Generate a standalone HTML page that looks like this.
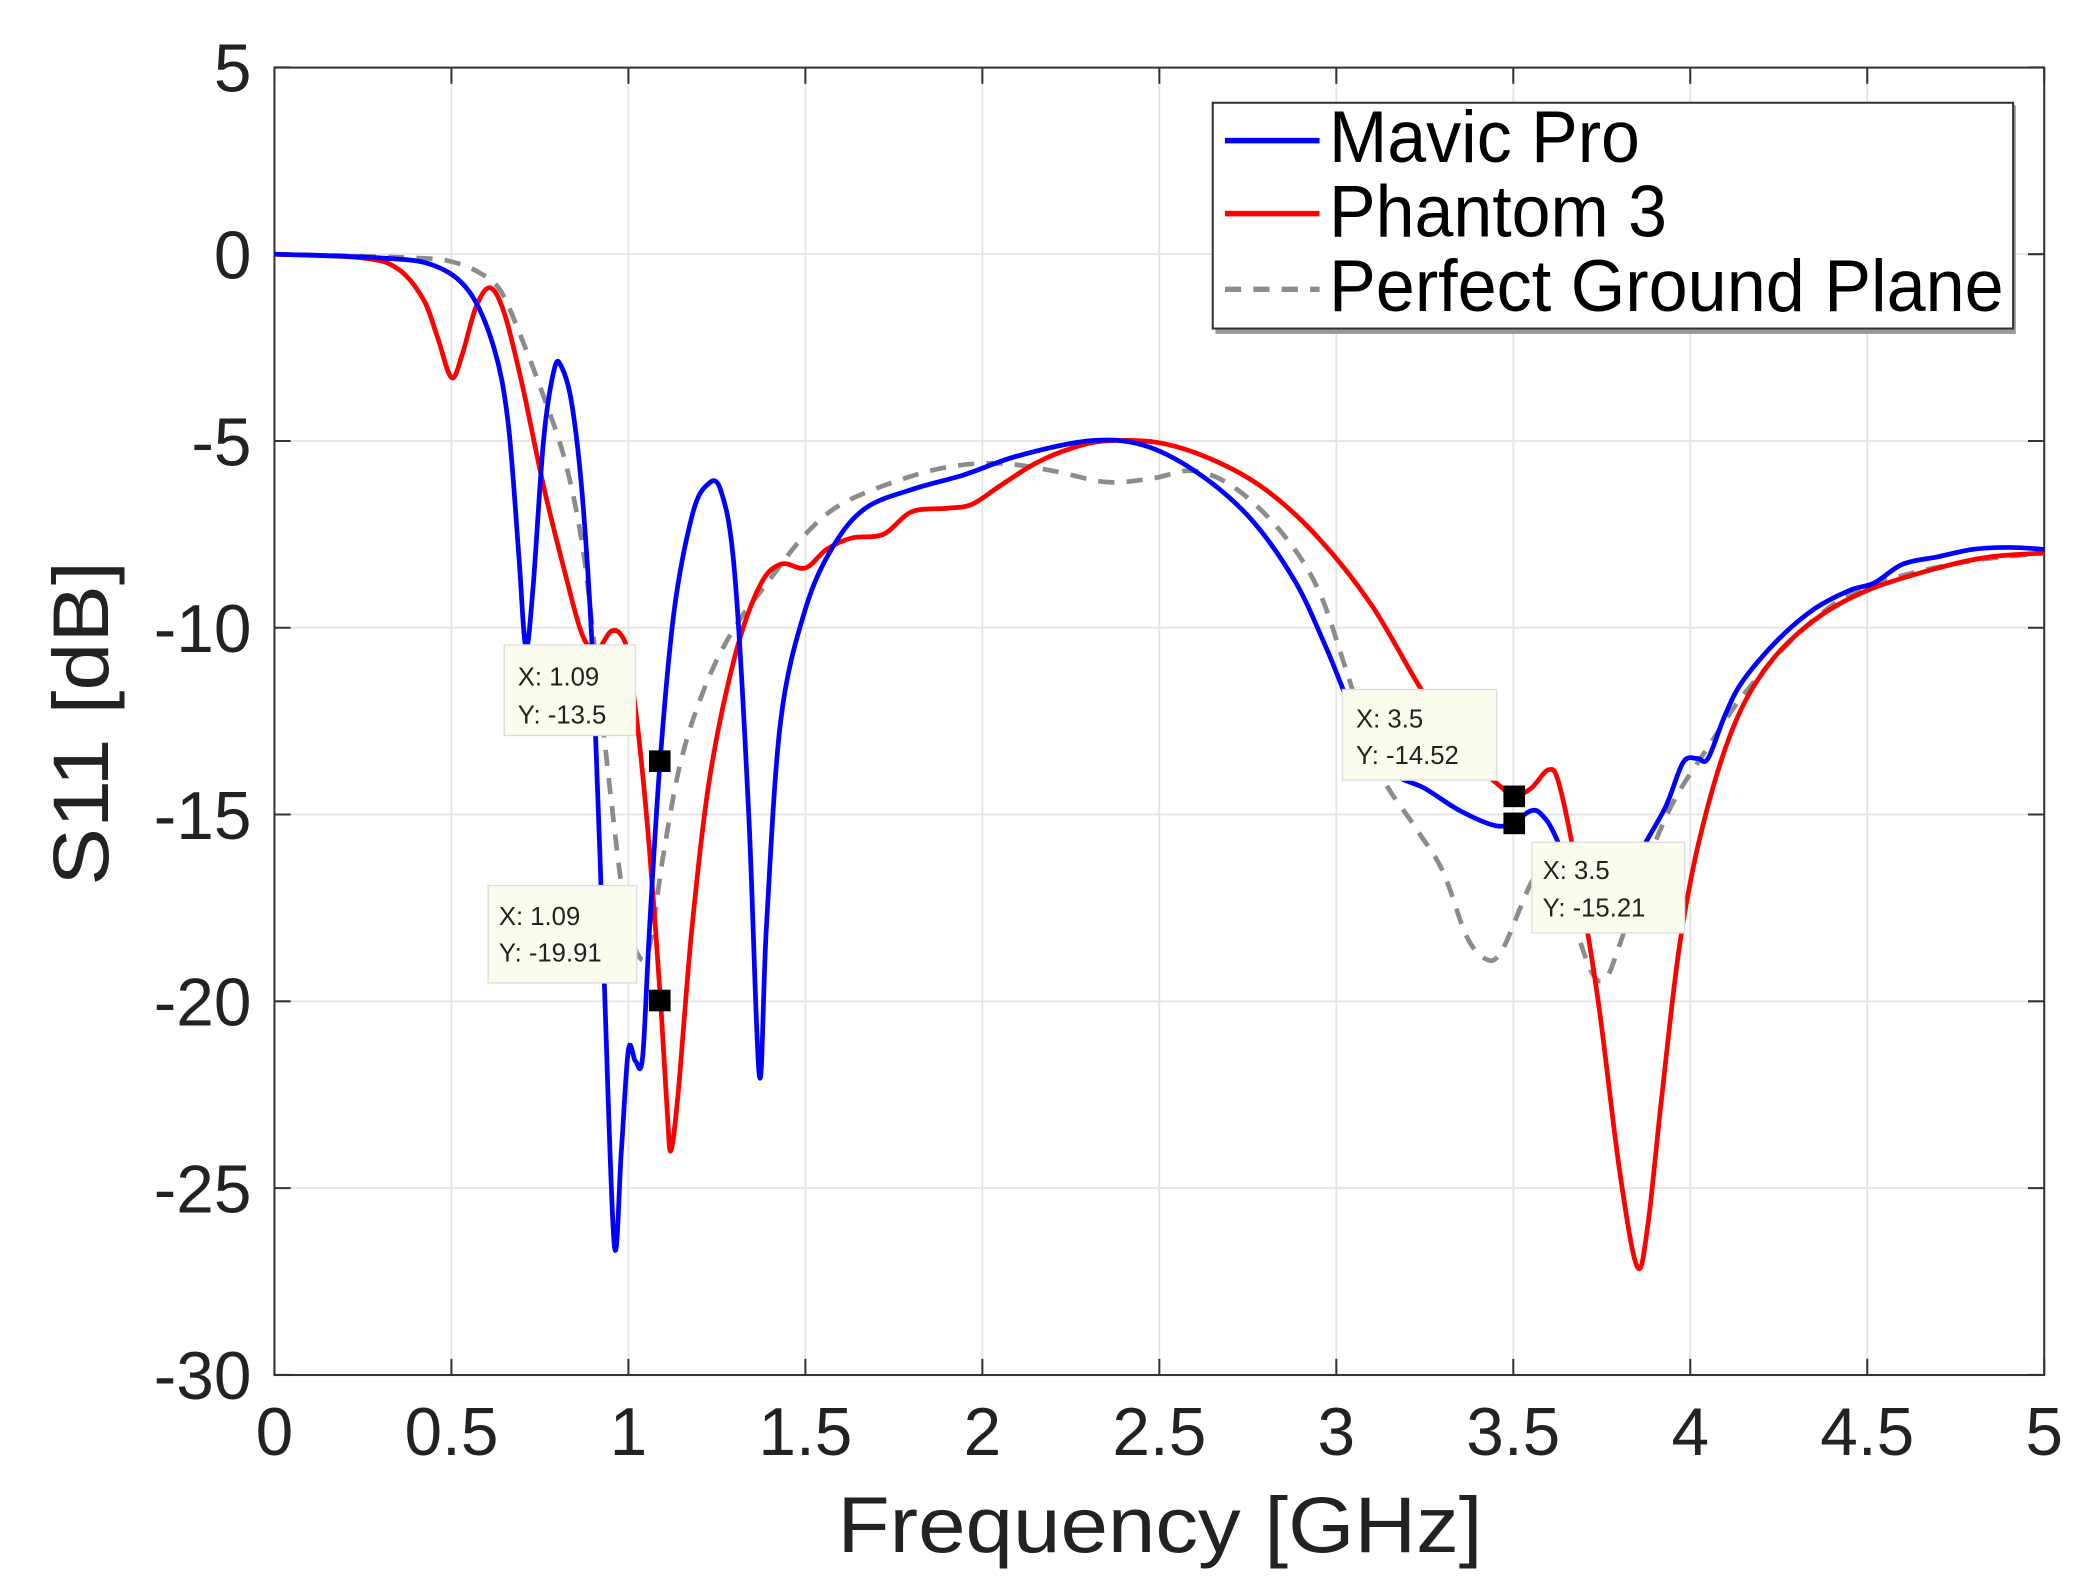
<!DOCTYPE html>
<html><head><meta charset="utf-8"><style>
html,body{margin:0;padding:0;background:#fff;}
svg{display:block;}
text{font-family:"Liberation Sans",sans-serif;}
</style></head><body>
<svg id="s" width="2096" height="1595" viewBox="0 0 1550.3 1179.7" preserveAspectRatio="none" xmlns="http://www.w3.org/2000/svg">
<rect x="0" y="0" width="1550.3" height="1179.7" fill="#fff"/>
<g id="grid" stroke="#e3e3e3" stroke-width="1.3"></g>
<rect x="203" y="50" width="1309" height="967" fill="none" stroke="#333" stroke-width="1.5"/>
<g id="ticks" stroke="#333" stroke-width="1.5"></g>
<g id="lab" font-size="50" fill="#222"></g>
<path id="gray" fill="none" stroke="#8c8c8c" stroke-width="3.5" stroke-dasharray="12,9"/>
<path id="red" fill="none" stroke="#ff0000" stroke-width="3.5" stroke-linejoin="round"/>
<path id="blue" fill="none" stroke="#0000ff" stroke-width="3.5" stroke-linejoin="round"/>
<text x="858" y="1148" font-size="58" text-anchor="middle" textLength="477" lengthAdjust="spacingAndGlyphs" fill="#222">Frequency [GHz]</text>
<text transform="translate(80,535) rotate(-90)" font-size="58" text-anchor="middle" textLength="240" lengthAdjust="spacingAndGlyphs" fill="#222">S11 [dB]</text>
<rect x="899" y="78" width="592" height="169" fill="#999"/>
<rect x="897" y="76" width="592" height="167" fill="#fff" stroke="#333" stroke-width="1.5"/>
<line x1="906" y1="104" x2="976" y2="104" stroke="#0000ff" stroke-width="4"/>
<line x1="906" y1="158" x2="976" y2="158" stroke="#ff0000" stroke-width="4"/>
<line x1="906" y1="214" x2="976" y2="214" stroke="#8c8c8c" stroke-width="4" stroke-dasharray="12,9"/>
<text x="983" y="120" font-size="54" textLength="230" lengthAdjust="spacingAndGlyphs" fill="#000">Mavic Pro</text>
<text x="983" y="175" font-size="54" textLength="250" lengthAdjust="spacingAndGlyphs" fill="#000">Phantom 3</text>
<text x="983" y="230" font-size="54" textLength="499" lengthAdjust="spacingAndGlyphs" fill="#000">Perfect Ground Plane</text>
<g font-size="19" fill="#222">
<rect x="373" y="477" width="97" height="67" fill="#fbfbee" stroke="#ddd"/>
<text x="383" y="507">X: 1.09</text><text x="383" y="535">Y: -13.5</text>
<rect x="361" y="655" width="110" height="72" fill="#fbfbee" stroke="#ddd"/>
<text x="369" y="684">X: 1.09</text><text x="369" y="711">Y: -19.91</text>
<rect x="993" y="510" width="114" height="67" fill="#fbfbee" stroke="#ddd"/>
<text x="1003" y="538">X: 3.5</text><text x="1003" y="565">Y: -14.52</text>
<rect x="1133" y="623" width="113" height="67" fill="#fbfbee" stroke="#ddd"/>
<text x="1141" y="650">X: 3.5</text><text x="1141" y="678">Y: -15.21</text>
</g>
<g fill="#000">
<rect x="480" y="555" width="16" height="16"/>
<rect x="480" y="732" width="16" height="16"/>
<rect x="1112" y="581" width="16" height="16"/>
<rect x="1112" y="601" width="16" height="16"/>
</g>
</svg>
<script>
var NS="http://www.w3.org/2000/svg";
function X(f){return 203+261.8*f;}
function Y(d){return 188-27.63*d;}
function el(p,t,a,txt){var e=document.createElementNS(NS,t);for(var k in a)e.setAttribute(k,a[k]);if(txt!=null)e.textContent=txt;document.getElementById(p).appendChild(e);}
for(var i=0;i<=10;i++){var x=X(i*0.5);
 if(i>0&&i<10)el("grid","line",{x1:x,y1:50,x2:x,y2:1017});
 el("ticks","line",{x1:x,y1:1017,x2:x,y2:1005});el("ticks","line",{x1:x,y1:50,x2:x,y2:62});
 el("lab","text",{x:x,y:1076,"text-anchor":"middle"},String(i*0.5));}
for(var d=5;d>=-30;d-=5){var y=Y(d);
 if(d<5&&d>-30)el("grid","line",{x1:203,y1:y,x2:1512,y2:y});
 el("ticks","line",{x1:203,y1:y,x2:215,y2:y});el("ticks","line",{x1:1512,y1:y,x2:1500,y2:y});
 el("lab","text",{x:186,y:y+18,"text-anchor":"end"},String(d));}
function path(a){var p=a.map(function(q){return [X(q[0]),Y(q[1])];});
 var s="M"+p[0][0].toFixed(1)+","+p[0][1].toFixed(1);
 for(var i=0;i<p.length-1;i++){var p0=p[i>0?i-1:i],p1=p[i],p2=p[i+1],p3=p[i+2<p.length?i+2:i+1];
  var c1x=p1[0]+(p2[0]-p0[0])/6,c1y=p1[1]+(p2[1]-p0[1])/6,c2x=p2[0]-(p3[0]-p1[0])/6,c2y=p2[1]-(p3[1]-p1[1])/6;
  s+=" C"+c1x.toFixed(1)+","+c1y.toFixed(1)+" "+c2x.toFixed(1)+","+c2y.toFixed(1)+" "+p2[0].toFixed(1)+","+p2[1].toFixed(1);}
 return s;}
var blue=[[0,0],[0.3,-0.1],[0.45,-0.3],[0.55,-1],[0.62,-2.5],[0.66,-4.5],[0.69,-8],[0.71,-10.5],[0.73,-9],[0.76,-5],[0.79,-3.1],[0.81,-3],[0.84,-4],[0.87,-6.5],[0.9,-11],[0.93,-19],[0.96,-26.5],[0.98,-24],[1.0,-21.3],[1.02,-21.6],[1.04,-21.5],[1.06,-18],[1.09,-13.5],[1.13,-9.5],[1.18,-7],[1.22,-6.2],[1.26,-6.3],[1.3,-8.5],[1.34,-15],[1.37,-22],[1.39,-18],[1.43,-12.5],[1.5,-9.5],[1.58,-7.8],[1.67,-6.8],[1.8,-6.3],[1.95,-5.9],[2.1,-5.4],[2.3,-5],[2.45,-5.1],[2.6,-5.8],[2.75,-7],[2.88,-8.7],[2.97,-10.5],[3.05,-12.3],[3.15,-13.8],[3.25,-14.3],[3.35,-14.9],[3.45,-15.3],[3.5,-15.2],[3.55,-14.9],[3.58,-15],[3.62,-15.6],[3.7,-17.5],[3.78,-18],[3.85,-16.2],[3.93,-14.8],[3.98,-13.6],[4.02,-13.5],[4.05,-13.5],[4.1,-12.3],[4.15,-11.4],[4.25,-10.3],[4.35,-9.5],[4.45,-9],[4.52,-8.8],[4.6,-8.3],[4.7,-8.1],[4.8,-7.9],[4.9,-7.85],[5,-7.9]];
var red=[[0,0],[0.25,-0.1],[0.35,-0.4],[0.42,-1.2],[0.46,-2.2],[0.5,-3.3],[0.53,-2.7],[0.57,-1.4],[0.61,-0.9],[0.65,-1.6],[0.7,-3.5],[0.76,-6.2],[0.82,-8.5],[0.87,-10.2],[0.91,-10.6],[0.95,-10.1],[0.98,-10.2],[1.0,-10.8],[1.03,-13],[1.06,-16],[1.09,-19.9],[1.11,-23],[1.12,-24],[1.14,-22.5],[1.18,-18],[1.23,-14],[1.3,-10.8],[1.37,-8.9],[1.43,-8.3],[1.5,-8.4],[1.56,-7.9],[1.63,-7.6],[1.72,-7.5],[1.8,-6.9],[1.9,-6.8],[1.97,-6.7],[2.05,-6.2],[2.15,-5.6],[2.25,-5.2],[2.35,-5],[2.5,-5.05],[2.65,-5.5],[2.8,-6.3],[2.95,-7.6],[3.1,-9.4],[3.25,-11.8],[3.38,-13.5],[3.47,-14.3],[3.5,-14.52],[3.55,-14.3],[3.6,-13.8],[3.63,-14.2],[3.68,-16.5],[3.74,-20],[3.8,-24.5],[3.85,-27.1],[3.88,-26],[3.92,-22.5],[3.97,-18.5],[4.03,-15.5],[4.12,-12.7],[4.22,-11],[4.35,-9.8],[4.5,-9],[4.7,-8.4],[4.85,-8.1],[5,-8]];
var gray=[[0,0],[0.4,-0.1],[0.5,-0.2],[0.58,-0.5],[0.64,-1],[0.7,-2.3],[0.76,-3.8],[0.82,-5.5],[0.87,-7.8],[0.91,-11],[0.95,-14.5],[0.99,-17.5],[1.03,-18.8],[1.06,-18.5],[1.1,-16],[1.15,-13.5],[1.22,-11.5],[1.3,-10],[1.4,-8.7],[1.5,-7.5],[1.6,-6.7],[1.75,-6.1],[1.9,-5.7],[2.05,-5.6],[2.2,-5.8],[2.35,-6.1],[2.48,-6],[2.6,-5.8],[2.72,-6.3],[2.85,-7.5],[2.95,-9],[3.03,-11.2],[3.12,-13.8],[3.22,-15.3],[3.3,-16.5],[3.37,-18.3],[3.43,-18.9],[3.47,-18.6],[3.52,-17.5],[3.56,-16.7],[3.61,-16.6],[3.66,-17.6],[3.72,-19.2],[3.76,-19.4],[3.8,-18.5],[3.87,-16.5],[3.95,-14.7],[4.05,-13.2],[4.15,-11.8],[4.3,-10.2],[4.45,-9.1],[4.6,-8.6],[4.8,-8.2],[5,-8]];
document.getElementById("blue").setAttribute("d",path(blue));
document.getElementById("red").setAttribute("d",path(red));
document.getElementById("gray").setAttribute("d",path(gray));
</script>
</body></html>
